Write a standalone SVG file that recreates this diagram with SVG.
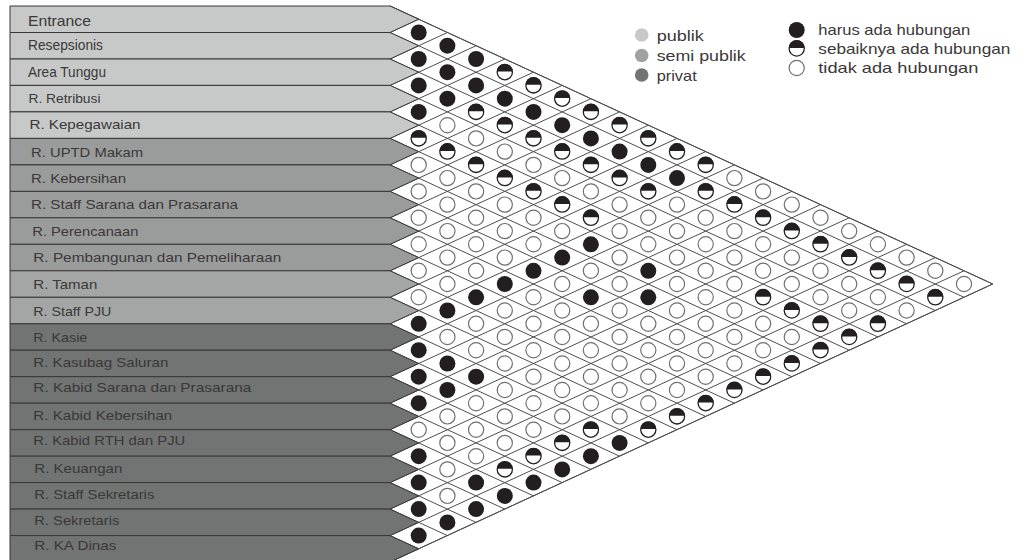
<svg xmlns="http://www.w3.org/2000/svg" width="1026" height="560" viewBox="0 0 1026 560">
<style>
.row{stroke:#3a3636;stroke-width:1}
.pub{fill:#c7c8c8}
.semi{fill:#a0a1a1}
.semi1{fill:#9a9b9b}
.semi2{fill:#a4a5a5}
.priv{fill:#727373}
.lbl{font-family:"Liberation Sans",Arial,sans-serif;fill:#3a3838;font-size:13px}
.big{font-size:14.5px}
.leg{font-family:"Liberation Sans",Arial,sans-serif;fill:#3a3838;font-size:14.5px}
.grid{stroke:#4e4e4e;stroke-width:1;fill:none}
</style>
<defs>
<circle id="f" r="8" fill="#231f20"/>
<circle id="e" r="7.6" fill="#ffffff" stroke="#707070" stroke-width="1.2"/>
<g id="h"><circle r="7.6" fill="#ffffff" stroke="#231f20" stroke-width="1.3"/><path d="M-7.9,-0.6 A7.9,7.9 0 0 1 7.9,-0.6 Z" fill="#231f20"/></g>
</defs>
<rect width="1026" height="560" fill="#ffffff"/>

<g id="matrix-area">
<polygon points="390,6 992.7,284 390,562" fill="#ffffff" stroke="#4e4e4e" stroke-width="1"/>
</g>

<g id="connectors" class="grid">
<path d="M390,6 L992.7,284 M390,32.5 L964,297.3 M390,59 L935.3,310.5 M390,85.4 L906.6,323.8 M390,111.9 L877.9,337 M390,138.4 L849.2,350.2 M390,164.9 L820.5,363.5 M390,191.4 L791.8,376.7 M390,217.8 L763.1,390 M390,244.3 L734.4,403.2 M390,270.8 L705.7,416.4 M390,297.3 L677,429.7 M390,323.8 L648.3,442.9 M390,350.2 L619.6,456.2 M390,376.7 L590.9,469.4 M390,403.2 L562.2,482.6 M390,429.7 L533.5,495.9 M390,456.2 L504.8,509.1 M390,482.6 L476.1,522.4 M390,509.1 L447.4,535.6 M390,535.6 L418.7,548.8"/>
<path d="M390,32.5 L418.7,19.2 M390,59 L447.4,32.5 M390,85.4 L476.1,45.7 M390,111.9 L504.8,59 M390,138.4 L533.5,72.2 M390,164.9 L562.2,85.4 M390,191.4 L590.9,98.7 M390,217.8 L619.6,111.9 M390,244.3 L648.3,125.2 M390,270.8 L677,138.4 M390,297.3 L705.7,151.6 M390,323.8 L734.4,164.9 M390,350.2 L763.1,178.1 M390,376.7 L791.8,191.4 M390,403.2 L820.5,204.6 M390,429.7 L849.2,217.8 M390,456.2 L877.9,231.1 M390,482.6 L906.6,244.3 M390,509.1 L935.3,257.6 M390,535.6 L964,270.8 M390,562 L992.7,284"/>
</g>

<g id="row-0"><polygon class="row pub" points="10,6 390,6 418.7,19.2 390,32.5 10,32.5"/><text class="lbl big" x="28" y="26" textLength="63" lengthAdjust="spacingAndGlyphs">Entrance</text></g>
<g id="row-1"><polygon class="row pub" points="10,32.5 390,32.5 418.7,45.7 390,59 10,59"/><text class="lbl big" x="28" y="50" textLength="75" lengthAdjust="spacingAndGlyphs">Resepsionis</text></g>
<g id="row-2"><polygon class="row pub" points="10,59 390,59 418.7,72.2 390,85.4 10,85.4"/><text class="lbl big" x="28" y="77" textLength="78" lengthAdjust="spacingAndGlyphs">Area Tunggu</text></g>
<g id="row-3"><polygon class="row pub" points="10,85.4 390,85.4 418.7,98.7 390,111.9 10,111.9"/><text class="lbl" x="28.5" y="102.5" textLength="72" lengthAdjust="spacingAndGlyphs">R. Retribusi</text></g>
<g id="row-4"><polygon class="row pub" points="10,111.9 390,111.9 418.7,125.2 390,138.4 10,138.4"/><text class="lbl" x="29.5" y="128.5" textLength="111" lengthAdjust="spacingAndGlyphs">R. Kepegawaian</text></g>
<g id="row-5"><polygon class="row semi1" points="10,138.4 390,138.4 418.7,151.6 390,164.9 10,164.9"/><text class="lbl" x="31" y="156.5" textLength="112" lengthAdjust="spacingAndGlyphs">R. UPTD Makam</text></g>
<g id="row-6"><polygon class="row semi1" points="10,164.9 390,164.9 418.7,178.1 390,191.4 10,191.4"/><text class="lbl" x="31" y="183" textLength="95" lengthAdjust="spacingAndGlyphs">R. Kebersihan</text></g>
<g id="row-7"><polygon class="row semi1" points="10,191.4 390,191.4 418.7,204.6 390,217.8 10,217.8"/><text class="lbl" x="31" y="209" textLength="207" lengthAdjust="spacingAndGlyphs">R. Staff Sarana dan Prasarana</text></g>
<g id="row-8"><polygon class="row semi1" points="10,217.8 390,217.8 418.7,231.1 390,244.3 10,244.3"/><text class="lbl" x="32.3" y="235.5" textLength="106" lengthAdjust="spacingAndGlyphs">R. Perencanaan</text></g>
<g id="row-9"><polygon class="row semi1" points="10,244.3 390,244.3 418.7,257.6 390,270.8 10,270.8"/><text class="lbl" x="33.3" y="262" textLength="248" lengthAdjust="spacingAndGlyphs">R. Pembangunan dan Pemeliharaan</text></g>
<g id="row-10"><polygon class="row semi2" points="10,270.8 390,270.8 418.7,284 390,297.3 10,297.3"/><text class="lbl" x="33.3" y="289" textLength="64" lengthAdjust="spacingAndGlyphs">R. Taman</text></g>
<g id="row-11"><polygon class="row semi2" points="10,297.3 390,297.3 418.7,310.5 390,323.8 10,323.8"/><text class="lbl" x="33.3" y="316" textLength="78" lengthAdjust="spacingAndGlyphs">R. Staff PJU</text></g>
<g id="row-12"><polygon class="row priv" points="10,323.8 390,323.8 418.7,337 390,350.2 10,350.2"/><text class="lbl" x="33.3" y="342" textLength="54" lengthAdjust="spacingAndGlyphs">R. Kasie</text></g>
<g id="row-13"><polygon class="row priv" points="10,350.2 390,350.2 418.7,363.5 390,376.7 10,376.7"/><text class="lbl" x="33.3" y="366.5" textLength="135" lengthAdjust="spacingAndGlyphs">R. Kasubag Saluran</text></g>
<g id="row-14"><polygon class="row priv" points="10,376.7 390,376.7 418.7,390 390,403.2 10,403.2"/><text class="lbl" x="33.3" y="392" textLength="218" lengthAdjust="spacingAndGlyphs">R. Kabid Sarana dan Prasarana</text></g>
<g id="row-15"><polygon class="row priv" points="10,403.2 390,403.2 418.7,416.4 390,429.7 10,429.7"/><text class="lbl" x="33.3" y="420" textLength="139" lengthAdjust="spacingAndGlyphs">R. Kabid Kebersihan</text></g>
<g id="row-16"><polygon class="row priv" points="10,429.7 390,429.7 418.7,442.9 390,456.2 10,456.2"/><text class="lbl" x="33.3" y="445" textLength="152" lengthAdjust="spacingAndGlyphs">R. Kabid RTH dan PJU</text></g>
<g id="row-17"><polygon class="row priv" points="10,456.2 390,456.2 418.7,469.4 390,482.6 10,482.6"/><text class="lbl" x="34.3" y="473" textLength="88" lengthAdjust="spacingAndGlyphs">R. Keuangan</text></g>
<g id="row-18"><polygon class="row priv" points="10,482.6 390,482.6 418.7,495.9 390,509.1 10,509.1"/><text class="lbl" x="34.3" y="499" textLength="120" lengthAdjust="spacingAndGlyphs">R. Staff Sekretaris</text></g>
<g id="row-19"><polygon class="row priv" points="10,509.1 390,509.1 418.7,522.4 390,535.6 10,535.6"/><text class="lbl" x="34.3" y="525" textLength="85" lengthAdjust="spacingAndGlyphs">R. Sekretaris</text></g>
<g id="row-20"><polygon class="row priv" points="10,535.6 390,535.6 418.7,548.8 390,562 10,562"/><text class="lbl" x="34.3" y="550" textLength="82" lengthAdjust="spacingAndGlyphs">R. KA Dinas</text></g>

<g id="relations">
<use href="#f" x="418.7" y="32.5"/><use href="#f" x="447.4" y="45.7"/><use href="#f" x="476.1" y="59"/><use href="#h" x="504.8" y="72.2"/><use href="#h" x="533.5" y="85.4"/><use href="#h" x="562.2" y="98.7"/><use href="#h" x="590.9" y="111.9"/><use href="#h" x="619.6" y="125.2"/><use href="#h" x="648.3" y="138.4"/><use href="#h" x="677" y="151.6"/><use href="#h" x="705.7" y="164.9"/><use href="#e" x="734.4" y="178.1"/><use href="#e" x="763.1" y="191.4"/><use href="#e" x="791.8" y="204.6"/><use href="#e" x="820.5" y="217.8"/><use href="#e" x="849.2" y="231.1"/><use href="#e" x="877.9" y="244.3"/><use href="#e" x="906.6" y="257.6"/><use href="#e" x="935.3" y="270.8"/><use href="#e" x="964" y="284"/>
<use href="#f" x="418.7" y="59"/><use href="#f" x="447.4" y="72.2"/><use href="#f" x="476.1" y="85.4"/><use href="#f" x="504.8" y="98.7"/><use href="#f" x="533.5" y="111.9"/><use href="#f" x="562.2" y="125.2"/><use href="#f" x="590.9" y="138.4"/><use href="#f" x="619.6" y="151.6"/><use href="#f" x="648.3" y="164.9"/><use href="#f" x="677" y="178.1"/><use href="#h" x="705.7" y="191.4"/><use href="#h" x="734.4" y="204.6"/><use href="#h" x="763.1" y="217.8"/><use href="#h" x="791.8" y="231.1"/><use href="#h" x="820.5" y="244.3"/><use href="#h" x="849.2" y="257.6"/><use href="#h" x="877.9" y="270.8"/><use href="#h" x="906.6" y="284"/><use href="#h" x="935.3" y="297.3"/>
<use href="#f" x="418.7" y="85.4"/><use href="#f" x="447.4" y="98.7"/><use href="#h" x="476.1" y="111.9"/><use href="#h" x="504.8" y="125.2"/><use href="#h" x="533.5" y="138.4"/><use href="#h" x="562.2" y="151.6"/><use href="#h" x="590.9" y="164.9"/><use href="#h" x="619.6" y="178.1"/><use href="#h" x="648.3" y="191.4"/><use href="#e" x="677" y="204.6"/><use href="#e" x="705.7" y="217.8"/><use href="#e" x="734.4" y="231.1"/><use href="#e" x="763.1" y="244.3"/><use href="#e" x="791.8" y="257.6"/><use href="#e" x="820.5" y="270.8"/><use href="#e" x="849.2" y="284"/><use href="#e" x="877.9" y="297.3"/><use href="#e" x="906.6" y="310.5"/>
<use href="#f" x="418.7" y="111.9"/><use href="#e" x="447.4" y="125.2"/><use href="#e" x="476.1" y="138.4"/><use href="#e" x="504.8" y="151.6"/><use href="#e" x="533.5" y="164.9"/><use href="#e" x="562.2" y="178.1"/><use href="#e" x="590.9" y="191.4"/><use href="#e" x="619.6" y="204.6"/><use href="#e" x="648.3" y="217.8"/><use href="#e" x="677" y="231.1"/><use href="#e" x="705.7" y="244.3"/><use href="#e" x="734.4" y="257.6"/><use href="#e" x="763.1" y="270.8"/><use href="#e" x="791.8" y="284"/><use href="#e" x="820.5" y="297.3"/><use href="#e" x="849.2" y="310.5"/><use href="#h" x="877.9" y="323.8"/>
<use href="#h" x="418.7" y="138.4"/><use href="#h" x="447.4" y="151.6"/><use href="#h" x="476.1" y="164.9"/><use href="#h" x="504.8" y="178.1"/><use href="#h" x="533.5" y="191.4"/><use href="#h" x="562.2" y="204.6"/><use href="#h" x="590.9" y="217.8"/><use href="#e" x="619.6" y="231.1"/><use href="#e" x="648.3" y="244.3"/><use href="#e" x="677" y="257.6"/><use href="#e" x="705.7" y="270.8"/><use href="#e" x="734.4" y="284"/><use href="#h" x="763.1" y="297.3"/><use href="#h" x="791.8" y="310.5"/><use href="#h" x="820.5" y="323.8"/><use href="#h" x="849.2" y="337"/>
<use href="#e" x="418.7" y="164.9"/><use href="#e" x="447.4" y="178.1"/><use href="#e" x="476.1" y="191.4"/><use href="#e" x="504.8" y="204.6"/><use href="#e" x="533.5" y="217.8"/><use href="#e" x="562.2" y="231.1"/><use href="#f" x="590.9" y="244.3"/><use href="#e" x="619.6" y="257.6"/><use href="#f" x="648.3" y="270.8"/><use href="#e" x="677" y="284"/><use href="#e" x="705.7" y="297.3"/><use href="#e" x="734.4" y="310.5"/><use href="#e" x="763.1" y="323.8"/><use href="#e" x="791.8" y="337"/><use href="#h" x="820.5" y="350.2"/>
<use href="#e" x="418.7" y="191.4"/><use href="#e" x="447.4" y="204.6"/><use href="#e" x="476.1" y="217.8"/><use href="#e" x="504.8" y="231.1"/><use href="#e" x="533.5" y="244.3"/><use href="#f" x="562.2" y="257.6"/><use href="#e" x="590.9" y="270.8"/><use href="#e" x="619.6" y="284"/><use href="#f" x="648.3" y="297.3"/><use href="#e" x="677" y="310.5"/><use href="#e" x="705.7" y="323.8"/><use href="#e" x="734.4" y="337"/><use href="#e" x="763.1" y="350.2"/><use href="#h" x="791.8" y="363.5"/>
<use href="#e" x="418.7" y="217.8"/><use href="#e" x="447.4" y="231.1"/><use href="#e" x="476.1" y="244.3"/><use href="#e" x="504.8" y="257.6"/><use href="#f" x="533.5" y="270.8"/><use href="#e" x="562.2" y="284"/><use href="#f" x="590.9" y="297.3"/><use href="#e" x="619.6" y="310.5"/><use href="#e" x="648.3" y="323.8"/><use href="#e" x="677" y="337"/><use href="#e" x="705.7" y="350.2"/><use href="#e" x="734.4" y="363.5"/><use href="#h" x="763.1" y="376.7"/>
<use href="#e" x="418.7" y="244.3"/><use href="#e" x="447.4" y="257.6"/><use href="#e" x="476.1" y="270.8"/><use href="#f" x="504.8" y="284"/><use href="#e" x="533.5" y="297.3"/><use href="#e" x="562.2" y="310.5"/><use href="#e" x="590.9" y="323.8"/><use href="#e" x="619.6" y="337"/><use href="#e" x="648.3" y="350.2"/><use href="#e" x="677" y="363.5"/><use href="#e" x="705.7" y="376.7"/><use href="#h" x="734.4" y="390"/>
<use href="#e" x="418.7" y="270.8"/><use href="#e" x="447.4" y="284"/><use href="#f" x="476.1" y="297.3"/><use href="#e" x="504.8" y="310.5"/><use href="#e" x="533.5" y="323.8"/><use href="#e" x="562.2" y="337"/><use href="#e" x="590.9" y="350.2"/><use href="#e" x="619.6" y="363.5"/><use href="#e" x="648.3" y="376.7"/><use href="#e" x="677" y="390"/><use href="#h" x="705.7" y="403.2"/>
<use href="#e" x="418.7" y="297.3"/><use href="#f" x="447.4" y="310.5"/><use href="#e" x="476.1" y="323.8"/><use href="#e" x="504.8" y="337"/><use href="#e" x="533.5" y="350.2"/><use href="#e" x="562.2" y="363.5"/><use href="#e" x="590.9" y="376.7"/><use href="#e" x="619.6" y="390"/><use href="#e" x="648.3" y="403.2"/><use href="#h" x="677" y="416.4"/>
<use href="#f" x="418.7" y="323.8"/><use href="#e" x="447.4" y="337"/><use href="#e" x="476.1" y="350.2"/><use href="#e" x="504.8" y="363.5"/><use href="#e" x="533.5" y="376.7"/><use href="#e" x="562.2" y="390"/><use href="#e" x="590.9" y="403.2"/><use href="#e" x="619.6" y="416.4"/><use href="#h" x="648.3" y="429.7"/>
<use href="#f" x="418.7" y="350.2"/><use href="#f" x="447.4" y="363.5"/><use href="#f" x="476.1" y="376.7"/><use href="#e" x="504.8" y="390"/><use href="#e" x="533.5" y="403.2"/><use href="#e" x="562.2" y="416.4"/><use href="#h" x="590.9" y="429.7"/><use href="#f" x="619.6" y="442.9"/>
<use href="#f" x="418.7" y="376.7"/><use href="#f" x="447.4" y="390"/><use href="#e" x="476.1" y="403.2"/><use href="#e" x="504.8" y="416.4"/><use href="#e" x="533.5" y="429.7"/><use href="#h" x="562.2" y="442.9"/><use href="#f" x="590.9" y="456.2"/>
<use href="#f" x="418.7" y="403.2"/><use href="#e" x="447.4" y="416.4"/><use href="#e" x="476.1" y="429.7"/><use href="#e" x="504.8" y="442.9"/><use href="#h" x="533.5" y="456.2"/><use href="#f" x="562.2" y="469.4"/>
<use href="#e" x="418.7" y="429.7"/><use href="#e" x="447.4" y="442.9"/><use href="#e" x="476.1" y="456.2"/><use href="#h" x="504.8" y="469.4"/><use href="#f" x="533.5" y="482.6"/>
<use href="#f" x="418.7" y="456.2"/><use href="#e" x="447.4" y="469.4"/><use href="#f" x="476.1" y="482.6"/><use href="#f" x="504.8" y="495.9"/>
<use href="#f" x="418.7" y="482.6"/><use href="#e" x="447.4" y="495.9"/><use href="#f" x="476.1" y="509.1"/>
<use href="#f" x="418.7" y="509.1"/><use href="#f" x="447.4" y="522.4"/>
<use href="#f" x="418.7" y="535.6"/>
</g>

<g id="legend-zone">
<circle cx="641.7" cy="35" r="6.8" class="pub"/>
<circle cx="641.7" cy="55.5" r="6.8" class="semi"/>
<circle cx="641.7" cy="75" r="6.8" class="priv"/>
<text class="leg" x="656.7" y="40.5" textLength="47" lengthAdjust="spacingAndGlyphs">publik</text>
<text class="leg" x="656.7" y="61" textLength="89" lengthAdjust="spacingAndGlyphs">semi publik</text>
<text class="leg" x="656.7" y="80.5" textLength="40" lengthAdjust="spacingAndGlyphs">privat</text>
</g>
<g id="legend-relation">
<use href="#f" x="796.7" y="30"/>
<use href="#h" x="796.7" y="48.5"/>
<use href="#e" x="796.7" y="68"/>
<text class="leg" x="818.3" y="35" textLength="152" lengthAdjust="spacingAndGlyphs">harus ada hubungan</text>
<text class="leg" x="818.3" y="53.5" textLength="192" lengthAdjust="spacingAndGlyphs">sebaiknya ada hubungan</text>
<text class="leg" x="818.3" y="73" textLength="160" lengthAdjust="spacingAndGlyphs">tidak ada hubungan</text>
</g>
</svg>
